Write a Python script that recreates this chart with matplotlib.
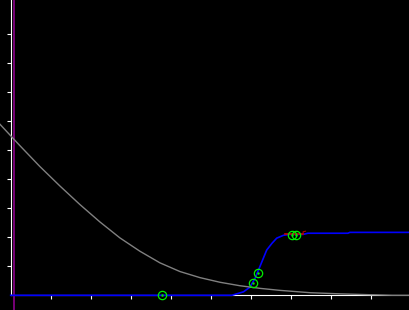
import matplotlib
matplotlib.use('Agg')
import matplotlib.pyplot as plt

# gray decaying curve
gray_x = [-0.27, 0.23, 0.73, 1.23, 1.73, 2.23, 2.73, 3.23, 3.73, 4.23, 4.73, 5.23,
          5.73, 6.23, 6.73, 7.48, 8.23, 8.98, 9.53, 10.0]
gray_y = [5.90, 5.16, 4.44, 3.77, 3.13, 2.53, 1.98, 1.52, 1.12, 0.82, 0.61, 0.45,
          0.33, 0.24, 0.17, 0.09, 0.05, 0.02, 0.0, 0.0]

# blue rising curve
blue_x = [0.0, 5.53, 5.82, 5.98, 6.11, 6.23, 6.40, 6.53, 6.65, 6.82, 6.98, 7.31, 7.43, 8.43, 8.48, 10.0]
blue_y = [0.0, 0.0, 0.12, 0.28, 0.59, 0.99, 1.56, 1.79, 1.97, 2.07, 2.10, 2.10, 2.14, 2.14, 2.17, 2.17]

# green markers
mark_x = [3.79, 6.07, 6.19, 7.04, 7.13]
mark_y = [0.0, 0.43, 0.78, 2.08, 2.08]

# red bits
red_x = [6.86, 7.31]
red_y = [2.10, 2.10]
red_tick_x = [7.31, 7.31, 7.37]
red_tick_y = [2.10, 2.19, 2.21]

purple_x = 0.09

fig = plt.figure(figsize=(4.1, 3.1), dpi=100, facecolor='black')
ax = fig.add_axes([0, 0, 1, 1], facecolor='black')

ax.axvline(purple_x, color='#800080', lw=1.3, zorder=3)
ax.plot(blue_x, blue_y, color='#0000ff', lw=1.2, zorder=3)
ax.plot(gray_x, gray_y, color='#808080', lw=1.0, zorder=3)
ax.plot(red_x, red_y, color='#cc0000', lw=1.2, zorder=4)
ax.plot(red_tick_x, red_tick_y, color='#aa0000', lw=0.8, zorder=4)
ax.plot(mark_x, mark_y, 'o', mfc='none', mec='#00ee00', ms=6, mew=0.9, zorder=5)
ax.plot(mark_x, mark_y, '.', color='#00ee00', ms=1.5, zorder=5)

ax.set_xlim(-0.2675, 9.9825)
ax.set_ylim(-0.507, 10.183)

for s in ['top', 'right']:
    ax.spines[s].set_visible(False)
ax.spines['left'].set_position(('data', 0))
ax.spines['bottom'].set_position(('data', 0))
ax.spines['left'].set_bounds(0, 10.183)
ax.spines['bottom'].set_bounds(0, 9.9825)
ax.spines['left'].set_color('white')
ax.spines['bottom'].set_color('white')
ax.spines['left'].set_zorder(1)
ax.spines['bottom'].set_zorder(1)

ax.set_xticks(range(1, 10))
ax.set_yticks(range(1, 10))
ax.tick_params(axis='both', direction='out', length=2.6, width=0.8, colors='white',
               labelleft=False, labelbottom=False)

fig.savefig('out.png', dpi=100, facecolor='black')
